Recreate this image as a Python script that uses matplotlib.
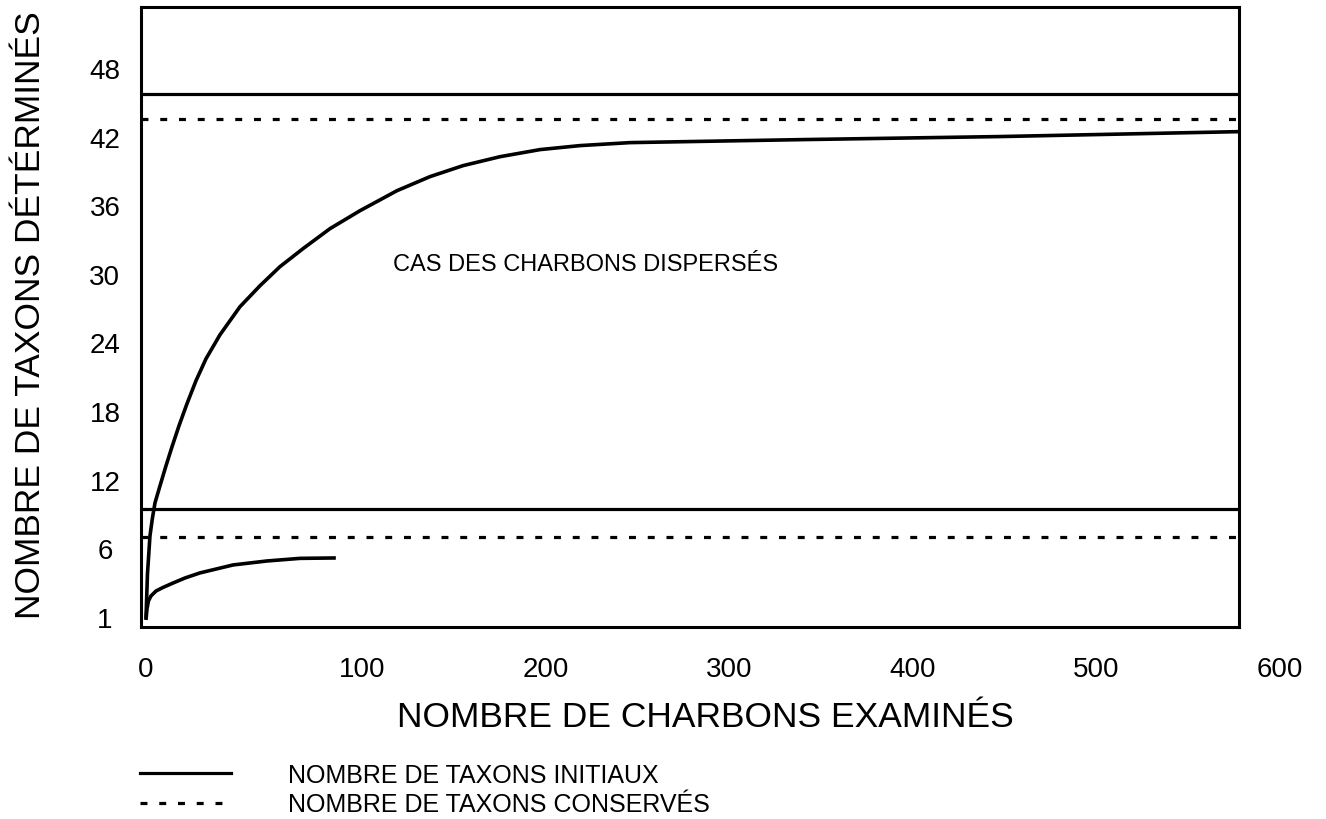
import numpy as np
import matplotlib
matplotlib.use("Agg")
from matplotlib import pyplot as plt

plt.rcParams["font.family"] = ["Liberation Sans", "DejaVu Sans"]
plt.rcParams["lines.scale_dashes"] = False

# courbes d'accumulation (nombre de charbons examinés -> nombre de taxons)
x_dispersed = [0, 0.69, 1.85, 3.0, 4.17, 6.48, 9.26, 12.04, 15.28, 18.98, 23.15,
               27.78, 34.26, 43.5, 52.8, 62.0, 72.7, 85.2, 99.1, 119.1, 137.1,
               155.1, 175.2, 197.0, 218.8, 246.0, 338.6, 447.5, 577.7]
y_dispersed = [0.86, 4.13, 7.09, 8.66, 9.97, 11.46, 13.21, 14.87, 16.71, 18.64,
               20.65, 22.57, 24.67, 27.12, 28.96, 30.62, 32.20, 33.95, 35.52,
               37.27, 38.50, 39.46, 40.24, 40.86, 41.21, 41.47, 41.73, 42.0, 42.43]
x_small = [0, 0.46, 1.16, 2.31, 4.63, 7.87, 12.04, 18.06, 25.0, 40.3, 56.0, 71.3, 87.9]
y_small = [0.78, 1.58, 2.17, 2.53, 2.89, 3.15, 3.44, 3.84, 4.21, 4.79, 5.08, 5.27, 5.30]

# niveaux horizontaux
initial_levels = [45.7, 9.4]
kept_levels = [43.5, 7.0]

x_ticks = [0, 100, 200, 300, 400, 500, 600]
y_ticks = [1, 6, 12, 18, 24, 30, 36, 42, 48]


# axe x : le premier intervalle (0-100) est un peu plus large que les autres
def fwd_x(x):
    x = np.asarray(x, dtype=float)
    return np.where(x < 100, 100 - (100 - x) * 1.1765, x)


def inv_x(u):
    u = np.asarray(u, dtype=float)
    return np.where(u < 100, 100 - (100 - u) / 1.1765, u)


# axe y : graduations 1, 6, 12 ... régulièrement espacées
def fwd_y(y):
    y = np.asarray(y, dtype=float)
    return np.where(y < 6, 6 - (6 - y) * 1.2, y)


def inv_y(u):
    u = np.asarray(u, dtype=float)
    return np.where(u < 6, 6 - (6 - u) / 1.2, u)


fig = plt.figure(figsize=(13.26, 8.2), dpi=100)
ax = fig.add_axes([141 / 1326, 1 - 628 / 820, 1098 / 1326, 619.7 / 820])
ax.set_xscale("function", functions=(fwd_x, inv_x))
ax.set_yscale("function", functions=(fwd_y, inv_y))

lw = 2.3
h_init = None
h_kept = None
for lev in initial_levels:
    h_init = ax.axhline(lev, color="black", lw=lw, label="NOMBRE DE TAXONS INITIAUX")
for lev in kept_levels:
    h_kept = ax.axhline(lev, color="black", lw=lw, ls=(0, (5, 8.5)),
                        label="NOMBRE DE TAXONS CONSERVÉS")

ax.plot(x_dispersed, y_dispersed, color="black", lw=2.6,
        solid_joinstyle="round", solid_capstyle="butt")
ax.plot(x_small, y_small, color="black", lw=2.6,
        solid_joinstyle="round", solid_capstyle="butt")

ax.text(117, 30.9, "CAS DES CHARBONS DISPERSÉS", fontsize=17, ha="left", va="center")

ax.set_xlim(-2.3, 577.7)
ax.set_ylim(0.27, 53.3)

for s in ax.spines.values():
    s.set_linewidth(2.2)

ax.set_yticks(y_ticks)
ax.set_yticklabels([str(v) for v in y_ticks], ha="center")
ax.tick_params(axis="y", length=0, pad=26, labelsize=20)

# les graduations x (dont 600) débordent du cadre
ax.set_xticks([])
for v in x_ticks:
    ax.text(v, -0.068, str(v), transform=ax.get_xaxis_transform(), fontsize=20,
            ha="center", va="center", clip_on=False)

ax.set_xlabel("NOMBRE DE CHARBONS EXAMINÉS", fontsize=25.5, va="center")
ax.xaxis.set_label_coords((705 - 141) / 1098, -(718 - 628) / 619.7)
ax.set_ylabel("NOMBRE DE TAXONS DÉTÉRMINÉS", fontsize=25.5, va="center")
ax.yaxis.set_label_coords((30 - 141) / 1098, (628 - 315) / 619.7)

fig.legend(handles=[h_init, h_kept], loc="upper left",
           bbox_to_anchor=(140 / 1326, 1 - 764 / 820), frameon=False,
           fontsize=18, handlelength=3.64, handletextpad=2.28, labelspacing=0.22,
           borderpad=0, borderaxespad=0)

fig.savefig("out.png", dpi=100)
